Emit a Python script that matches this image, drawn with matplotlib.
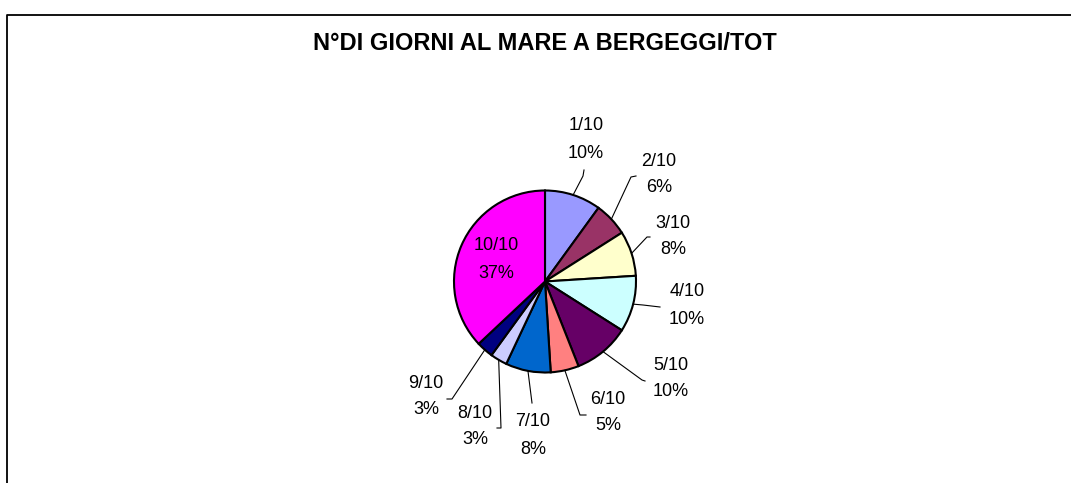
import numpy as np
import matplotlib
matplotlib.use('Agg')
import matplotlib.pyplot as plt
from matplotlib.lines import Line2D

# data
CATEGORIES = ['1/10', '2/10', '3/10', '4/10', '5/10',
              '6/10', '7/10', '8/10', '9/10', '10/10']
PERCENTS = [10, 6, 8, 10, 10, 5, 8, 3, 3, 37]
COLORS = ['#9999FF', '#993366', '#FFFFCC', '#CCFFFF', '#660066',
          '#FF8080', '#0066CC', '#CCCCFF', '#000080', '#FF00FF']

TITLE = 'N°DI GIORNI AL MARE A BERGEGGI/TOT'

# layout (pixel coordinates, y downwards)
W, H = 1071, 483
CENTER = (545, 281.5)
RADIUS = 91
# label centre (x, y of first line) and leader elbow/end points
LABEL_POS = [(586, 126), (659, 161), (673, 223), (687, 292), (671, 365),
             (608, 399), (533, 422), (475, 413), (426, 383), (496, 246)]
LEADERS = [
    [(583, 176), (584, 170)],
    [(631, 177), (636, 176)],
    [(647, 237), (650, 237)],
    [(643, 305), (660, 307)],
    [(642, 380), (645, 381)],
    [(580, 415), (586, 415)],
    [(532, 403)],
    [(501, 428), (497, 428)],
    [(452, 399), (447, 399)],
    None,
]
LINE_GAP = 27

FONT = ['Liberation Sans', 'DejaVu Sans']


def fy(y):
    return H - y


def main():
    fig = plt.figure(figsize=(W / 100, H / 100), dpi=100, facecolor='white')
    ax = fig.add_axes([0, 0, 1, 1])

    ax.pie(PERCENTS, colors=COLORS, startangle=90, counterclock=False,
           center=(CENTER[0], fy(CENTER[1])), radius=RADIUS,
           wedgeprops=dict(edgecolor='black', linewidth=1.5))
    ax.set_xlim(0, W)
    ax.set_ylim(0, H)
    ax.set_aspect('equal', adjustable='box')
    ax.axis('off')

    total = sum(PERCENTS)
    cum = np.cumsum([0] + PERCENTS)
    for i, (cat, val) in enumerate(zip(CATEGORIES, PERCENTS)):
        mid = 90 - 360 * (cum[i] + val / 2) / total
        sx = CENTER[0] + RADIUS * np.cos(np.radians(mid))
        sy = CENTER[1] - RADIUS * np.sin(np.radians(mid))
        if LEADERS[i] is not None:
            pts = [(sx, sy)] + LEADERS[i]
            ax.plot([p[0] for p in pts], [fy(p[1]) for p in pts],
                    color='black', linewidth=0.8, zorder=3)
        lx, ly = LABEL_POS[i]
        ax.text(lx, fy(ly), cat, ha='center', va='center', fontsize=13,
                family=FONT, color='black', zorder=4)
        ax.text(lx, fy(ly + LINE_GAP), f'{val}%', ha='center', va='center',
                fontsize=13, family=FONT, color='black', zorder=4)

    fig.text(545 / W, 1 - 43 / H, TITLE, ha='center', va='center',
             fontsize=17, weight='bold', family=FONT, color='black')

    # chart frame (cropped: only left and top edges visible)
    fig.add_artist(Line2D([7 / W, 7 / W, 1], [0, 1 - 15 / H, 1 - 15 / H],
                          transform=fig.transFigure, color='black',
                          linewidth=1.3))

    fig.savefig('out.png', dpi=100, facecolor='white')


if __name__ == '__main__':
    main()
